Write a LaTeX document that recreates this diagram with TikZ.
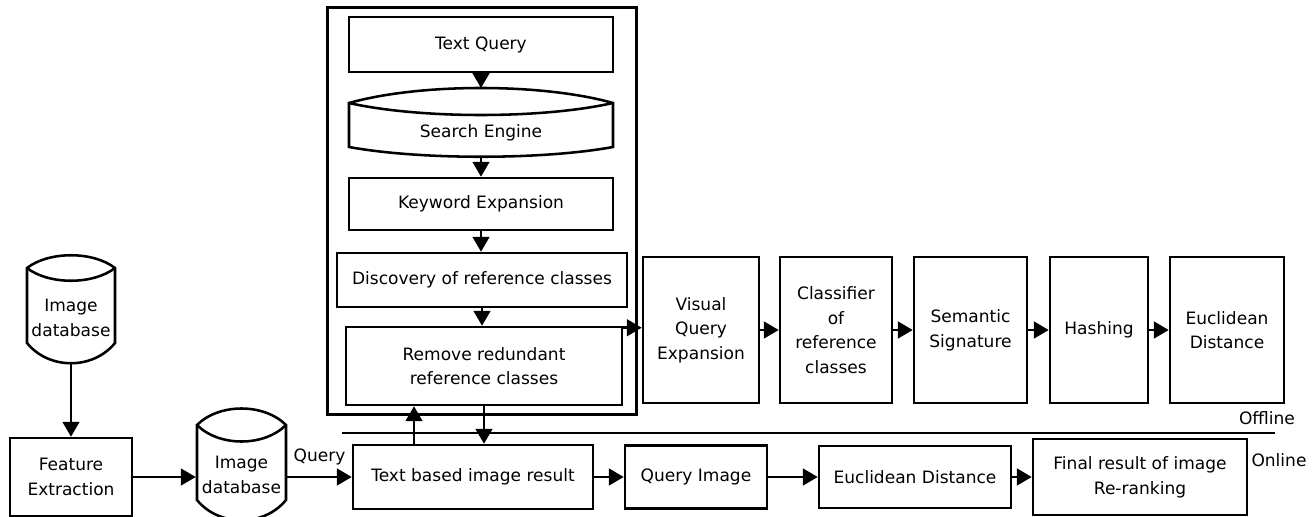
\documentclass[tikz,border=0pt]{standalone}
\usepackage{fontspec}
\setmainfont{DejaVu Sans}
\usetikzlibrary{calc, fit, arrows.meta}

\tikzset{
  box/.style={draw, line width=1.45pt, align=center, inner sep=1pt},
  arr/.style={line width=1.45pt, -{Triangle[length=8.5pt, width=9.5pt]}},
  shapeline/.style={line width=1.45pt},
}

\begin{document}
\begin{tikzpicture}[x=0.02cm, y=-0.02cm, font=\fontsize{9.7}{14}\selectfont]
\useasboundingbox (0,0) rectangle (1315,517);

% offline: text query part
\node (tq) [box, minimum width=5.28cm, minimum height=1.1cm] at (481,44.5) {Text Query};
\node (se) at (481,133) {Search Engine};
\coordinate (setop) at (481,88);
\coordinate (sebot) at (481,157);
\draw [shapeline] (349,103) .. controls (420,83) and (542,83) .. (613,103) -- (613,147) .. controls (542,160) and (420,160) .. (349,147) -- cycle;
\draw [shapeline] (349,103) .. controls (420,119) and (542,119) .. (613,103);
\node (ke) [box, minimum width=5.28cm, minimum height=1.04cm] at (481,204) {Keyword Expansion};
\node (disc) [box, minimum width=5.8cm, minimum height=1.08cm] at (482,280) {Discovery of reference classes};
\node (rem) [box, minimum width=5.52cm, minimum height=1.56cm] at (484,366) {Remove redundant\\reference classes};
\node (grp) [draw, line width=1.45pt, inner sep=0.16cm, fit=(tq)(disc)(rem)] {};

\draw [arr] (tq) -- (setop);
\draw [arr] (sebot) -- (ke);
\draw [arr] (ke.south) -- (ke.south |- disc.north);
\draw [arr] (disc.south) -- (disc.south |- rem.north);

% offline: visual part
\node (vqe) [box, minimum width=2.32cm, minimum height=2.92cm] at (701,330) {Visual\\Query\\Expansion};
\node (cls) [box, minimum width=2.24cm, minimum height=2.92cm] at (836,330) {Classifier\\of\\reference\\classes};
\node (sem) [box, minimum width=2.26cm, minimum height=2.92cm] at (970.5,330) {Semantic\\Signature};
\node (hash) [box, minimum width=1.96cm, minimum height=2.92cm] at (1099,330) {Hashing};
\node (euc) [box, minimum width=2.28cm, minimum height=2.92cm] at (1227,330) {Euclidean\\Distance};

\coordinate (remout) at ([yshift=-0.04cm]rem.north east);
\draw [arr] (remout) -- (remout -| vqe.west);
\draw [arr] (vqe) -- (cls);
\draw [arr] (cls) -- (sem);
\draw [arr] (sem) -- (hash);
\draw [arr] (hash) -- (euc);

% database side
\node (db1) [align=center, minimum width=1.76cm] at (71,318) {Image\\database};
\coordinate (db1bot) at (71,363);
\draw [shapeline] (27,268) .. controls (49,251) and (93,251) .. (115,268) -- (115,343) .. controls (93,370) and (49,370) .. (27,343) -- cycle;
\draw [shapeline] (27,268) .. controls (49,285) and (93,285) .. (115,268);
\node (fe) [box, minimum width=2.44cm, minimum height=1.56cm] at (71,477) {Feature\\Extraction};
\node (db2) [align=center, minimum width=1.78cm] at (241.5,475) {Image\\database};
\draw [shapeline] (197,425) .. controls (219,403) and (264,403) .. (286,425) -- (286,500) .. controls (264,527) and (219,527) .. (197,500) -- cycle;
\draw [shapeline] (197,425) .. controls (219,447) and (264,447) .. (286,425);

\draw [arr] (db1bot) -- (fe);
\draw [arr] (fe.east) -- (fe.east -| db2.west);

% online part
\node (tbr) [box, minimum width=4.8cm, minimum height=1.28cm] at (473,477) {Text based image result};
\node (qi) [box, minimum width=2.84cm, minimum height=1.26cm] at (696,477) {Query Image};
\node (ed) [box, minimum width=3.84cm, minimum height=1.24cm] at (915,477) {Euclidean Distance};
\node (fin) [box, minimum width=4.28cm, minimum height=1.52cm] at (1140,477) {Final result of image\\Re-ranking};

\draw [arr] (db2.east |- fe.east) -- (tbr.west |- fe.east) node[midway, above=3pt] {Query};
\draw [arr] (tbr) -- (qi);
\draw [arr] (qi) -- (ed);
\draw [arr] (ed) -- (fin);

\coordinate (up1) at ([xshift=-1.18cm]tbr.north);
\draw [arr] (up1) -- (up1 |- rem.south);
\draw [arr] (rem.south) -- (rem.south |- tbr.north);

% offline / online split
\draw [line width=1.45pt] (342,433) -- (1275,433);
\node (off) at (1267,418) {Offline};
\node (on) at (1279,460) {Online};
\end{tikzpicture}
\end{document}
